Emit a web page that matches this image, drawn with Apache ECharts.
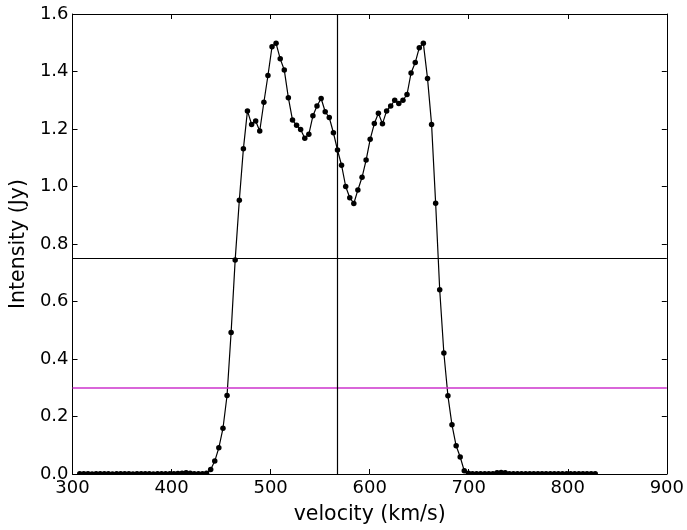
<!DOCTYPE html>
<html><head><meta charset="utf-8">
<script src="https://cdn.jsdelivr.net/npm/echarts@6/dist/echarts.min.js"></script>
<style>html,body{margin:0;padding:0;background:#fff}#c{width:687px;height:530px}</style>
</head><body><div id="c"></div>
<script>
// channel velocities (km/s)
const velocity = [
307.3,311.4,315.6,319.7,323.8,327.9,332.1,336.2,340.3,344.5,
348.6,352.7,356.9,361.0,365.1,369.3,373.4,377.5,381.6,385.8,
389.9,394.0,398.2,402.3,406.4,410.6,414.7,418.8,422.9,427.1,
431.2,435.3,439.5,443.6,447.7,451.9,456.0,460.1,464.2,468.4,
472.5,476.6,480.8,484.9,489.0,493.2,497.3,501.4,505.5,509.7,
513.8,517.9,522.1,526.2,530.3,534.5,538.6,542.7,546.8,551.0,
555.1,559.2,563.4,567.5,571.6,575.8,579.9,584.0,588.1,592.3,
596.4,600.5,604.7,608.8,612.9,617.1,621.2,625.3,629.4,633.6,
637.7,641.8,646.0,650.1,654.2,658.4,662.5,666.6,670.7,674.9,
679.0,683.1,687.3,691.4,695.5,699.7,703.8,707.9,712.0,716.2,
720.3,724.4,728.6,732.7,736.8,741.0,745.1,749.2,753.3,757.5,
761.6,765.7,769.9,774.0,778.1,782.3,786.4,790.5,794.6,798.8,
802.9,807.0,811.2,815.3,819.4,823.6,827.7
];
// flux density (Jy)
const intensity = [
0.001,0.001,0.001,0.000,0.001,0.001,0.001,0.001,0.000,0.001,
0.001,0.001,0.001,0.000,0.001,0.001,0.001,0.001,0.000,0.001,
0.001,0.001,0.001,0.001,0.002,0.003,0.004,0.003,0.001,0.001,
0.001,0.003,0.016,0.045,0.091,0.159,0.273,0.492,0.744,0.952,
1.131,1.263,1.216,1.228,1.193,1.293,1.386,1.486,1.498,1.444,
1.405,1.309,1.231,1.213,1.198,1.168,1.182,1.246,1.280,1.306,
1.260,1.240,1.187,1.127,1.074,1.000,0.961,0.941,0.988,1.032,
1.092,1.164,1.219,1.255,1.218,1.263,1.280,1.300,1.289,1.300,
1.320,1.395,1.431,1.483,1.498,1.376,1.216,0.942,0.641,0.421,
0.272,0.171,0.098,0.059,0.011,0.003,0.001,0.001,0.001,0.001,
0.001,0.001,0.004,0.005,0.004,0.001,0.001,0.001,0.001,0.001,
0.001,0.001,0.001,0.001,0.001,0.001,0.001,0.001,0.001,0.001,
0.001,0.001,0.001,0.001,0.001,0.001,0.001
];
const xTicks = [300,400,500,600,700,800,900];
const yTicks = [0.0,0.2,0.4,0.6,0.8,1.0,1.2,1.4,1.6];
const halfPeakLevel = 0.75;
const twentyPctLevel = 0.30;
const centerVelocityW20 = 566.8;
const centerVelocityW50 = 567.3;

const FONT = 'DejaVu Sans';
const chart = echarts.init(document.getElementById('c'), null, {renderer:'canvas'});
const points = velocity.map((v,i)=>[v,intensity[i]]);
const axisCommon = {
  axisLine:{show:true,onZero:false,lineStyle:{color:'#000',width:1}},
  axisTick:{show:true,inside:true,length:5,lineStyle:{color:'#000',width:1}},
  splitLine:{show:false}
};
const xmin = xTicks[0], xmax = xTicks[xTicks.length-1], xint = xTicks[1]-xTicks[0];
const ymin = yTicks[0], ymax = yTicks[yTicks.length-1], yint = 0.2;
chart.setOption({
  animation:false,
  backgroundColor:'#fff',
  grid:{left:72,right:20,top:14,bottom:56,containLabel:false},
  xAxis:[
    Object.assign({type:'value',min:xmin,max:xmax,interval:xint,position:'bottom',
      name:'velocity (km/s)',nameLocation:'middle',nameGap:30,
      nameTextStyle:{fontFamily:FONT,fontSize:20.5,color:'#000',verticalAlign:'top'},
      axisLabel:{fontFamily:FONT,fontSize:18,color:'#000',margin:5}},axisCommon),
    Object.assign({type:'value',min:xmin,max:xmax,interval:xint,position:'top',
      axisLabel:{show:false}},axisCommon)
  ],
  yAxis:[
    Object.assign({type:'value',min:ymin,max:ymax,interval:yint,position:'left',
      name:'Intensity (Jy)',nameLocation:'middle',nameGap:41,nameRotate:90,
      nameTextStyle:{fontFamily:FONT,fontSize:20.5,color:'#000'},
      axisLabel:{fontFamily:FONT,fontSize:18,color:'#000',margin:4,
        formatter:v=>v.toFixed(1)}},axisCommon),
    Object.assign({type:'value',min:ymin,max:ymax,interval:yint,position:'right',
      axisLabel:{show:false}},axisCommon)
  ],
  series:[
    {type:'line',xAxisIndex:0,yAxisIndex:0,data:[],symbol:'none',silent:true,z:1,
      markLine:{silent:true,symbol:'none',label:{show:false},animation:false,
        data:[
          {yAxis:twentyPctLevel,lineStyle:{color:'#cc33cc',width:1.5,type:'solid'}},
          {xAxis:centerVelocityW20,lineStyle:{color:'#cc33cc',width:1,type:'solid'}},
          {yAxis:halfPeakLevel,lineStyle:{color:'#000',width:1.2,type:'solid'}},
          {xAxis:centerVelocityW50,lineStyle:{color:'#000',width:1.2,type:'solid'}}
        ]}},
    {type:'line',xAxisIndex:0,yAxisIndex:0,data:points,z:3,
      symbol:'circle',symbolSize:5.5,showAllSymbol:true,clip:true,
      lineStyle:{color:'#000',width:1.2},
      itemStyle:{color:'#000',borderWidth:0}}
  ],
  graphic:[{type:'rect',z:100,silent:true,
    shape:{x:72.5,y:475,width:594,height:4},style:{fill:'#fff'}}]
});
</script>
</body></html>
